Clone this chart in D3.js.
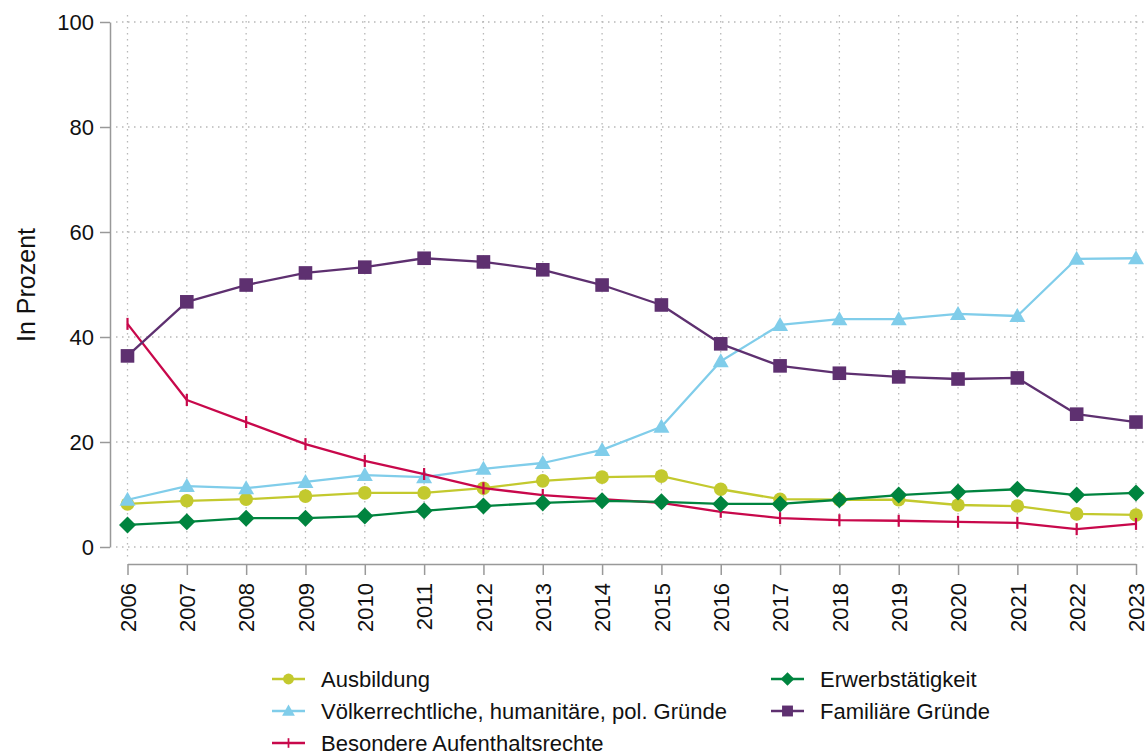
<!DOCTYPE html>
<html>
<head>
<meta charset="utf-8">
<script src="https://cdn.jsdelivr.net/npm/d3@7"></script>
<style>
  body { margin: 0; background: #fff; }
  svg text { font-family: "Liberation Sans", Arial, sans-serif; fill: #111; }
</style>
</head>
<body>
<div id="chart"></div>
<script>
(function () {
  'use strict';

  var years = [2006, 2007, 2008, 2009, 2010, 2011, 2012, 2013, 2014, 2015,
               2016, 2017, 2018, 2019, 2020, 2021, 2022, 2023];
  var yTicks = [0, 20, 40, 60, 80, 100];

  var ausbildung = [8.2, 8.8, 9.1, 9.7, 10.3, 10.3, 11.2, 12.6, 13.3, 13.5,
                    11.0, 9.1, 9.0, 9.0, 8.0, 7.8, 6.3, 6.1];
  var voelkerrecht = [9.0, 11.6, 11.2, 12.4, 13.7, 13.3, 14.9, 16.0, 18.5, 22.9,
                      35.4, 42.3, 43.4, 43.4, 44.4, 44.0, 54.9, 55.0];
  var besondere = [42.5, 28.0, 23.8, 19.6, 16.4, 13.9, 11.2, 9.9, 9.1, 8.4,
                   6.7, 5.5, 5.1, 5.0, 4.8, 4.6, 3.4, 4.4];
  var erwerb = [4.2, 4.8, 5.5, 5.5, 5.9, 6.9, 7.8, 8.4, 8.8, 8.6,
                8.2, 8.2, 9.0, 9.9, 10.5, 11.0, 9.9, 10.3];
  var familie = [36.4, 46.7, 49.9, 52.2, 53.3, 55.0, 54.3, 52.8, 49.9, 46.1,
                 38.7, 34.5, 33.1, 32.4, 32.0, 32.2, 25.3, 23.8];

  var series = [
    {name: 'Ausbildung', values: ausbildung, color: '#c3c92e', marker: 'circle'},
    {name: 'Völkerrechtliche, humanitäre, pol. Gründe', values: voelkerrecht, color: '#80cdea', marker: 'triangle'},
    {name: 'Besondere Aufenthaltsrechte', values: besondere, color: '#c8084b', marker: 'tick'},
    {name: 'Erwerbstätigkeit', values: erwerb, color: '#00843f', marker: 'diamond'},
    {name: 'Familiäre Gründe', values: familie, color: '#5e3070', marker: 'square'}
  ];

  var width = 1145, height = 752;
  var fontSize = '22px';
  var svg = d3.select('#chart').append('svg')
    .attr('width', width).attr('height', height);

  var x = d3.scalePoint().domain(years).range([127.5, 1136]);
  var y = d3.scaleLinear().domain([0, 100]).range([547, 22]);

  //----- grid
  var grid = svg.append('g').attr('class', 'grid');
  grid.selectAll('line.h').data(yTicks).enter().append('line')
    .attr('x1', 116).attr('x2', 1145)
    .attr('y1', function (d) { return y(d); })
    .attr('y2', function (d) { return y(d); })
    .attr('stroke', '#b8b8b8').attr('stroke-width', 1.3)
    .attr('stroke-dasharray', '1.5,4.5');
  grid.selectAll('line.v').data(years).enter().append('line')
    .attr('x1', function (d) { return x(d); })
    .attr('x2', function (d) { return x(d); })
    .attr('y1', 15).attr('y2', 558)
    .attr('stroke', '#b8b8b8').attr('stroke-width', 1.3)
    .attr('stroke-dasharray', '1.5,4.5');

  //----- y axis
  var yAxis = svg.append('g').attr('transform', 'translate(110,0)')
    .call(d3.axisLeft(y).tickValues(yTicks).tickSize(10).tickSizeOuter(0).tickPadding(6));
  yAxis.select('.domain').attr('stroke', '#999').attr('stroke-width', 1.5);
  yAxis.selectAll('.tick line').attr('stroke', '#999').attr('stroke-width', 1.5);
  yAxis.selectAll('.tick text').style('font-size', fontSize)
    .style('font-family', '"Liberation Sans", Arial, sans-serif').attr('fill', '#111');

  //----- x axis
  var xAxis = svg.append('g').attr('transform', 'translate(0,564)')
    .call(d3.axisBottom(x).tickSize(11).tickSizeOuter(0).tickFormat(d3.format('d')));
  xAxis.select('.domain').attr('stroke', '#999').attr('stroke-width', 1.5);
  xAxis.selectAll('.tick line').attr('stroke', '#999').attr('stroke-width', 1.5);
  xAxis.selectAll('.tick text')
    .style('font-size', fontSize)
    .style('font-family', '"Liberation Sans", Arial, sans-serif')
    .attr('fill', '#111')
    .attr('transform', 'rotate(-90)')
    .attr('text-anchor', 'end')
    .attr('x', -19).attr('y', 0).attr('dy', '0.35em');

  //----- y label
  svg.append('text')
    .attr('transform', 'translate(35,285) rotate(-90)')
    .attr('text-anchor', 'middle')
    .style('font-size', '25px')
    .text('In Prozent');

  //----- markers
  function drawMarker(g, type, color) {
    if (type === 'circle') {
      g.append('circle').attr('r', 6.8).attr('fill', color);
    } else if (type === 'square') {
      g.append('rect').attr('x', -6.8).attr('y', -6.8).attr('width', 13.6).attr('height', 13.6).attr('fill', color);
    } else if (type === 'diamond') {
      g.append('path').attr('d', 'M0,-8.5L8.5,0L0,8.5L-8.5,0Z').attr('fill', color);
    } else if (type === 'triangle') {
      g.append('path').attr('d', 'M0,-8L8,6L-8,6Z').attr('fill', color);
    } else if (type === 'tick') {
      g.append('line').attr('x1', 0).attr('x2', 0).attr('y1', -6).attr('y2', 6)
        .attr('stroke', color).attr('stroke-width', 2.2);
    }
  }

  var line = d3.line()
    .x(function (d, i) { return x(years[i]); })
    .y(function (d) { return y(d); });

  var plot = svg.append('g').attr('class', 'series');
  series.forEach(function (s) {
    var g = plot.append('g');
    g.append('path').attr('d', line(s.values))
      .attr('fill', 'none').attr('stroke', s.color).attr('stroke-width', 2.3)
      .attr('stroke-linejoin', 'round');
    g.selectAll('g.mk').data(s.values).enter().append('g')
      .attr('transform', function (d, i) { return 'translate(' + x(years[i]) + ',' + y(d) + ')'; })
      .each(function () { drawMarker(d3.select(this), s.marker, s.color); });
  });

  //----- legend
  var legendPos = [
    {x: 272, y: 679}, {x: 272, y: 711}, {x: 272, y: 743},
    {x: 771, y: 679}, {x: 771, y: 711}
  ];
  var legend = svg.append('g').attr('class', 'legend');
  series.forEach(function (s, i) {
    var p = legendPos[i];
    var g = legend.append('g').attr('transform', 'translate(' + p.x + ',' + p.y + ')');
    g.append('line').attr('x1', 0).attr('x2', 33).attr('y1', 0).attr('y2', 0)
      .attr('stroke', s.color).attr('stroke-width', 2.3);
    var m = g.append('g').attr('transform', 'translate(16.5,0) scale(0.8)');
    drawMarker(m, s.marker, s.color);
    g.append('text').attr('x', 49).attr('y', 0).attr('dy', '0.35em')
      .style('font-size', fontSize).text(s.name);
  });
})();
</script>
</body>
</html>
